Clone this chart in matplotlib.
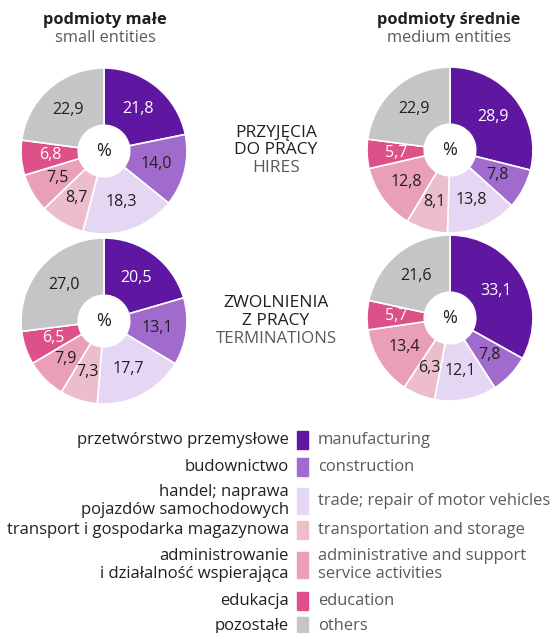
import matplotlib as mpl
import matplotlib.pyplot as plt
import numpy as np

mpl.rcParams["font.family"] = ["Open Sans", "DejaVu Sans"]

W, H = 554, 633

# data
categories_pl = [
    "przetwórstwo przemysłowe",
    "budownictwo",
    "handel; naprawa\npojazdów samochodowych",
    "transport i gospodarka magazynowa",
    "administrowanie\ni działalność wspierająca",
    "edukacja",
    "pozostałe",
]
categories_en = [
    "manufacturing",
    "construction",
    "trade; repair of motor vehicles",
    "transportation and storage",
    "administrative and support\nservice activities",
    "education",
    "others",
]
small_hires = [21.8, 14.0, 18.3, 8.7, 7.5, 6.8, 22.9]
medium_hires = [28.9, 7.8, 13.8, 8.1, 12.8, 5.7, 22.9]
small_terminations = [20.5, 13.1, 17.7, 7.3, 7.9, 6.5, 27.0]
medium_terminations = [33.1, 7.8, 12.1, 6.3, 13.4, 5.7, 21.6]

colors = ["#5f17a1", "#a06bcc", "#e5d7f4", "#ebbdcd", "#e99fb8", "#dd5088", "#c5c5c7"]
label_colors = ["white", "#231f20", "#231f20", "#231f20", "#231f20", "white", "#231f20"]
DARK = "#231f20"
GREY = "#5a5a5a"

fig = plt.figure(figsize=(W / 100, H / 100), dpi=100)


def px_axes(cx, cy, r):
    return fig.add_axes([(cx - r) / W, 1 - (cy + r) / H, 2 * r / W, 2 * r / H])


def donut(cx, cy, values):
    ax = px_axes(cx, cy, 83)
    wedges, _ = ax.pie(values, colors=colors, startangle=90, counterclock=False,
                       radius=1, wedgeprops={"width": 0.69, "edgecolor": "white", "linewidth": 1.2})
    for w, v, tc in zip(wedges, values, label_colors):
        ang = np.deg2rad((w.theta1 + w.theta2) / 2)
        r = 0.65
        ax.text(r * np.cos(ang), r * np.sin(ang), f"{v:.1f}".replace(".", ","),
                ha="center", va="center", fontsize=11.5, color=tc)
    ax.text(0, 0, "%", ha="center", va="center", fontsize=13, color=DARK)
    ax.set_xlim(-1, 1)
    ax.set_ylim(-1, 1)
    ax.set_aspect("equal")
    ax.axis("off")


donut(104, 151, small_hires)
donut(450, 150, medium_hires)
donut(104, 321, small_terminations)
donut(450, 318, medium_terminations)


def ftext(x, y, s, **kw):
    fig.text(x / W, 1 - y / H, s, **kw)


ftext(105, 20, "podmioty małe", ha="center", va="center", fontsize=11.8, fontweight="bold", color=DARK)
ftext(105, 38, "small entities", ha="center", va="center", fontsize=11.8, color=GREY)
ftext(449, 20, "podmioty średnie", ha="center", va="center", fontsize=11.8, fontweight="bold", color=DARK)
ftext(449, 38, "medium entities", ha="center", va="center", fontsize=11.8, color=GREY)

ftext(276, 133, "PRZYJĘCIA", ha="center", va="center", fontsize=12.5, color=DARK)
ftext(276, 150, "DO PRACY", ha="center", va="center", fontsize=12.5, color=DARK)
ftext(276, 168, "HIRES", ha="center", va="center", fontsize=12.5, color=GREY)
ftext(276, 303, "ZWOLNIENIA", ha="center", va="center", fontsize=12.5, color=DARK)
ftext(276, 321, "Z PRACY", ha="center", va="center", fontsize=12.5, color=DARK)
ftext(276, 339, "TERMINATIONS", ha="center", va="center", fontsize=12.2, color=GREY)

# legend
rows_y = [440, 467, 501, 530, 565, 601, 626]
box_h = [18, 18, 26, 18, 26, 18, 18]
for y, h, c, pl, en in zip(rows_y, box_h, colors, categories_pl, categories_en):
    fig.patches.append(mpl.patches.Rectangle((297 / W, 1 - (y + h / 2) / H), 11 / W, h / H,
                                             transform=fig.transFigure, color=c))
    ftext(289, y, pl, ha="right", va="center", fontsize=12, color=DARK, linespacing=1.15)
    ftext(318, y, en, ha="left", va="center", fontsize=11.9, color=GREY, linespacing=1.2)

fig.savefig("out.png", dpi=100)
